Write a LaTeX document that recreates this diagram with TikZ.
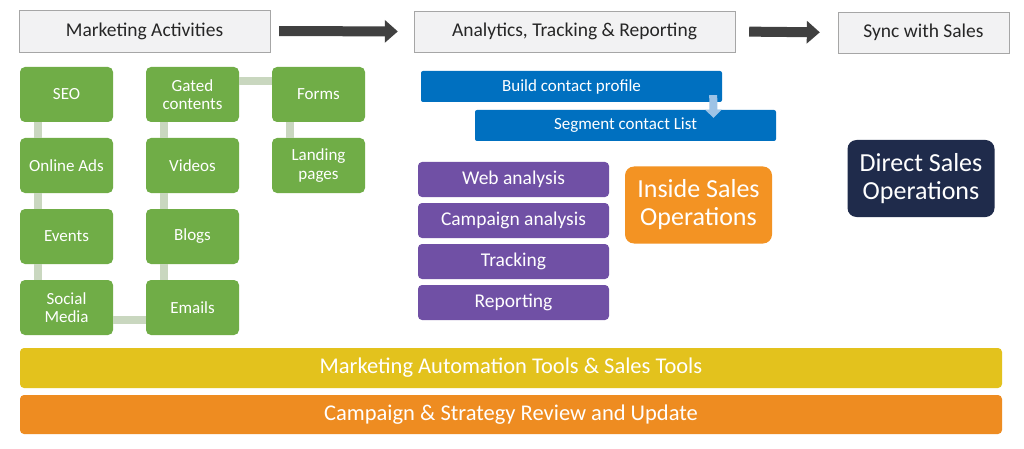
\documentclass[tikz,border=0pt]{standalone}
\usepackage{fontspec}
\setmainfont{Carlito}
\usetikzlibrary{arrows.meta}
\definecolor{headgray}{HTML}{F2F2F3}
\definecolor{headline}{HTML}{A6A6A6}
\definecolor{actgreen}{HTML}{70AD47}
\definecolor{linkgreen}{HTML}{C9D7BF}
\definecolor{profblue}{HTML}{0070C0}
\definecolor{pale}{HTML}{9DC3E6}
\definecolor{anapurple}{HTML}{7050A5}
\definecolor{insorange}{HTML}{F39323}
\definecolor{dirnavy}{HTML}{1F2B4B}
\definecolor{toolyellow}{HTML}{E3C21D}
\definecolor{revorange}{HTML}{EE8C21}
\tikzset{
  head/.style={draw=headline, fill=headgray, text=black!85, inner sep=0pt,
    font=\fontsize{19.5}{21}\selectfont},
  act/.style={fill=actgreen, rounded corners=5pt, text=white, inner sep=0pt,
    minimum width=93pt, minimum height=55pt, align=center,
    font=\fontsize{17}{18.5}\selectfont},
  link/.style={linkgreen, line width=8pt},
  prof/.style={fill=profblue, text=white, inner sep=0pt, rounded corners=2pt,
    minimum width=301pt, minimum height=31pt, font=\fontsize{17}{19}\selectfont},
  ana/.style={fill=anapurple, text=white, inner sep=0pt, rounded corners=4pt,
    minimum width=191pt, minimum height=35pt, font=\fontsize{19.5}{21}\selectfont},
  ops/.style={text=white, inner sep=0pt, rounded corners=9pt, align=center,
    minimum width=147pt, minimum height=77pt, font=\fontsize{26}{28}\selectfont},
  bar/.style={text=white, inner sep=0pt, rounded corners=4pt,
    minimum width=982pt, minimum height=40pt, font=\fontsize{22.5}{24}\selectfont},
  flow/.style={black!75, line width=10pt, -{Triangle[length=13pt,width=22pt]}},
}
\begin{document}
\begin{tikzpicture}[x=1pt,y=-1pt]
\useasboundingbox[fill=white] (0,0) rectangle (1024,449);
% headings
\node[head, minimum width=251pt, minimum height=42pt] (mkt) at (144.5,31) {Marketing Activities};
\node[head, minimum width=321pt, minimum height=41pt] (anl) at (574.5,31.5) {Analytics, Tracking \& Reporting};
\node[head, minimum width=171pt, minimum height=41pt] (syn) at (923.5,32.5) {Sync with Sales};
\draw[flow, shorten <=9pt, shorten >=16pt] (mkt.east) -- (anl.west);
\draw[flow, shorten <=14pt, shorten >=18pt] (anl.east) -- (syn.west);
% marketing activities
\node[act] (seo) at (66.5,94.5) {SEO};
\node[act] (ads) at (66.5,165.5) {Online Ads};
\node[act] (evt) at (66.5,236.5) {Events};
\node[act] (soc) at (66.5,307.5) {Social\\Media};
\node[act] (gat) at (192.5,94.5) {Gated\\contents};
\node[act] (vid) at (192.5,165.5) {Videos};
\node[act] (blg) at (192.5,236.5) {Blogs};
\node[act] (eml) at (192.5,307.5) {Emails};
\node[act] (frm) at (318.5,94.5) {Forms};
\node[act] (lnd) at (318.5,165.5) {Landing\\pages};
\foreach \a/\b in {seo/ads,ads/evt,evt/soc,gat/vid,vid/blg,blg/eml,frm/lnd}
  \draw[link] ([xshift=18pt]\a.south west) -- ([xshift=18pt]\b.north west);
\draw[link] ([yshift=-14pt]gat.north east) -- ([yshift=-14pt]frm.north west);
\draw[link] ([yshift=15pt]soc.south east) -- ([yshift=15pt]eml.south west);
% analytics
\node[prof] (bld) at (571.5,86.5) {Build contact profile};
\node[prof] (seg) at (625.5,125.5) {Segment contact List};
\draw[pale, line width=8pt, -{Triangle[length=8pt,width=16pt]}]
  ([xshift=-9pt,yshift=7pt]bld.south east) -- ([xshift=88pt,yshift=-8pt]seg.north);
\foreach \t [count=\i] in {Web analysis,Campaign analysis,Tracking,Reporting}
  \node[ana] (ana\i) at (513.5,138.5+41*\i) {\t};
% sales
\node[ops, fill=insorange] (ins) at (698.5,205) {Inside Sales\\Operations};
\node[ops, fill=dirnavy] (dir) at (921,178.5) {Direct Sales\\Operations};
% bars
\node[bar, fill=toolyellow] (tls) at (511,368) {Marketing Automation Tools \& Sales Tools};
\node[bar, fill=revorange, minimum height=39pt] (rev) at (511,414.5) {Campaign \& Strategy Review and Update};
\end{tikzpicture}
\end{document}
